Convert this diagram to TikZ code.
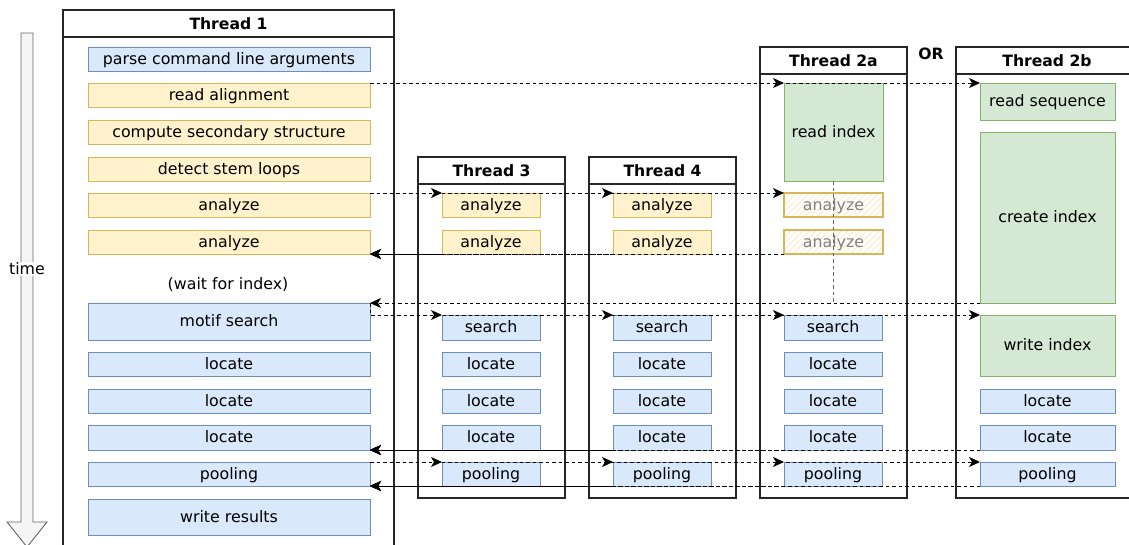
\documentclass[tikz,border=0pt]{standalone}
\usepackage{fontspec}
\setmainfont{DejaVu Sans}
\usetikzlibrary{arrows.meta,patterns.meta}
\definecolor{bfill}{HTML}{DAE8FC}\definecolor{bline}{HTML}{6C8EBF}
\definecolor{yfill}{HTML}{FFF2CC}\definecolor{yline}{HTML}{D6B656}
\definecolor{gfill}{HTML}{D5E8D4}\definecolor{gline}{HTML}{82B366}
\definecolor{tfill}{HTML}{F5F5F5}\definecolor{tline}{HTML}{666666}
\definecolor{hatchc}{HTML}{FBE9BE}
\newcommand\tk[7]{\node[#6,anchor=north west,minimum width=#4pt,minimum height=#5pt] (#1) at (#2,#3) {#7};}
\begin{document}
\begin{tikzpicture}[x=1pt,y=-1pt,font=\fontsize{15.8}{19}\selectfont,
 base/.style={draw,inner sep=0pt,outer sep=0pt,line width=0.9pt,text height=13pt,text depth=2.4pt},
 tb/.style={base,fill=bfill,draw=bline},
 ty/.style={base,fill=yfill,draw=yline},
 tg/.style={base,fill=gfill,draw=gline},
 th/.style={base,draw=yline,line width=1.3pt,pattern={Lines[angle=45,distance=4.5pt,line width=0.8pt]},pattern color=hatchc,text=gray},
 thr/.style={draw=black!85,line width=1.1pt,inner sep=0pt,outer sep=0pt,anchor=north west},
 hdr/.style={thr,font=\fontsize{15.6}{19}\selectfont\bfseries,text height=14.5pt,text depth=2pt},
 conn/.style={draw=black,line width=0.9pt,dash pattern=on 3.5pt off 3pt,-{Stealth[length=11pt,width=10pt,inset=3pt]}},
]
\useasboundingbox (0,0) rectangle (1129,544);
\begin{scope}
\clip (0,0) rectangle (1129,544);
% time arrow
\draw[fill=tfill,draw=tline,line width=0.9pt] (21,33) -- (33,33) -- (33,522) -- (47,522) -- (27,547) -- (7,522) -- (21,522) -- cycle;
\node[fill=white,inner sep=1pt] (time) at (27,269) {time};
% thread boxes
\node[thr,minimum width=331pt,minimum height=560pt] (t1box) at (63,10) {};
\node[hdr,minimum width=331pt,minimum height=27pt] (t1hdr) at (63,10) {Thread 1};
\node[thr,minimum width=147pt,minimum height=341pt] (t3box) at (418,157) {};
\node[hdr,minimum width=147pt,minimum height=27pt] (t3hdr) at (418,157) {Thread 3};
\node[thr,minimum width=147pt,minimum height=341pt] (t4box) at (589,157) {};
\node[hdr,minimum width=147pt,minimum height=27pt] (t4hdr) at (589,157) {Thread 4};
\node[thr,minimum width=147pt,minimum height=451pt] (tabox) at (760,47) {};
\node[hdr,minimum width=147pt,minimum height=27pt] (tahdr) at (760,47) {Thread 2a};
\node[thr,minimum width=190pt,minimum height=451pt] (tbbox) at (956,47) {};
\node[hdr,minimum width=182pt,minimum height=27pt] (tbhdr) at (956,47) {Thread 2b};
\node[font=\fontsize{15.6}{19}\selectfont\bfseries] (or) at (931,54) {OR};
% thread 1 tasks
\tk{oparse}{88}{47}{282}{24}{tb}{parse command line arguments}
\tk{oread}{88}{83}{282}{24}{ty}{read alignment}
\tk{ocomp}{88}{120}{282}{24}{ty}{compute secondary structure}
\tk{odet}{88}{157}{282}{24}{ty}{detect stem loops}
\tk{oan1}{88}{193}{282}{24}{ty}{analyze}
\tk{oan2}{88}{230}{282}{24}{ty}{analyze}
\node (wait) at (228,285) {(wait for index)};
\tk{oms}{88}{303}{282}{37}{tb}{motif search}
\tk{olo1}{88}{352}{282}{24}{tb}{locate}
\tk{olo2}{88}{389}{282}{24}{tb}{locate}
\tk{olo3}{88}{425}{282}{25}{tb}{locate}
\tk{opo}{88}{462}{282}{24}{tb}{pooling}
\tk{owr}{88}{499}{282}{36}{tb}{write results}
% threads 3 and 4
\foreach \x/\n in {442/t3,613/t4}{
 \tk{\n an1}{\x}{193}{98}{24}{ty}{analyze}
 \tk{\n an2}{\x}{230}{98}{24}{ty}{analyze}
}
% thread 2a
\tk{tari}{784}{83}{99}{98}{tg}{read index}
\tk{taan1}{784}{193}{99}{24}{th}{analyze}
\tk{taan2}{784}{230}{99}{24}{th}{analyze}
\foreach \x/\n in {442/t3,613/t4,784/ta}{
 \tk{\n se}{\x}{315}{98}{25}{tb}{search}
 \tk{\n lo1}{\x}{352}{98}{24}{tb}{locate}
 \tk{\n lo2}{\x}{389}{98}{24}{tb}{locate}
 \tk{\n lo3}{\x}{425}{98}{25}{tb}{locate}
 \tk{\n po}{\x}{462}{98}{24}{tb}{pooling}
}
% thread 2b
\tk{tbrs}{980}{83}{135}{37}{tg}{read sequence}
\tk{tbci}{980}{132}{135}{171}{tg}{create index}
\tk{tbwi}{980}{315}{135}{61}{tg}{write index}
\tk{tblo2}{980}{389}{135}{24}{tb}{locate}
\tk{tblo3}{980}{425}{135}{25}{tb}{locate}
\tk{tbpo}{980}{462}{135}{24}{tb}{pooling}
% connectors
\draw[conn] (oread.north east) -- (tari.north west);
\draw[conn] (oread.north east) -- (tbrs.north west);
\foreach \n in {t3,t4,ta}{
 \draw[conn] (oan1.north east) -- (\n an1.north west);
 \draw[conn] (\n an2.south west) -- (oan2.south east);
}
\draw[draw=tline,line width=0.9pt,dash pattern=on 3.5pt off 3pt] (tari.south) -- (tari.south |- tbci.south);
\draw[conn] (tbci.south west) -- (oms.north east);
\foreach \n in {t3se,t4se,tase,tbwi}{
 \draw[conn] (oms.north east) |- (\n.north west);
}
\foreach \n in {t3,t4,ta,tb}{
 \draw[conn] (\n lo3.south west) -- (olo3.south east);
 \draw[conn] (opo.north east) -- (\n po.north west);
 \draw[conn] (\n po.south west) -- (opo.south east);
}
\end{scope}
\end{tikzpicture}
\end{document}
